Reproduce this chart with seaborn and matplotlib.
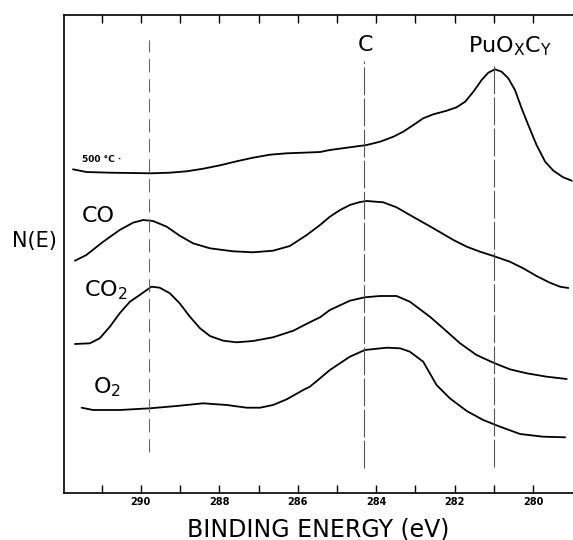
import numpy as np
import pandas as pd
import matplotlib
matplotlib.use("Agg")
import matplotlib.pyplot as plt
import seaborn as sns

sns.set_style("white")
plt.rcParams['font.family'] = ['DejaVu Sans']
plt.rcParams['text.color'] = 'black'

# spectra: binding energy (eV) and N(E) (arbitrary units)
e_500 = [291.73, 291.39, 290.79, 289.73, 289.26, 288.83, 288.41, 287.98, 287.56, 287.14,
         286.71, 286.28, 285.86, 285.43, 285.18, 284.67, 284.24, 283.90, 283.56, 283.31,
         283.05, 282.80, 282.54, 282.20, 281.95, 281.73, 281.52, 281.31, 281.14, 280.97,
         280.80, 280.63, 280.46, 280.29, 280.12, 279.91, 279.69, 279.48, 279.23, 279.01]
n_500 = [33.07, 32.80, 32.73, 32.67, 32.73, 32.87, 33.13, 33.47, 33.87, 34.23,
         34.53, 34.67, 34.73, 34.80, 35.00, 35.27, 35.50, 35.83, 36.33, 36.83,
         37.50, 38.17, 38.57, 38.93, 39.27, 39.83, 40.83, 42.00, 42.73, 43.07,
         42.83, 42.17, 41.00, 39.17, 37.50, 35.50, 33.83, 32.93, 32.27, 31.93]

e_co = [291.68, 291.39, 290.96, 290.54, 290.20, 289.94, 289.69, 289.34, 289.01, 288.67,
        288.24, 287.65, 287.14, 286.63, 286.20, 285.77, 285.43, 285.18, 284.92, 284.67,
        284.41, 284.24, 283.82, 283.48, 283.14, 282.54, 282.03, 281.69, 281.35, 281.01,
        280.59, 280.25, 279.91, 279.57, 279.31, 279.10]
n_co = [23.93, 24.50, 25.83, 27.00, 27.73, 28.00, 27.90, 27.33, 26.43, 25.67,
        25.17, 24.87, 24.77, 24.93, 25.40, 26.50, 27.50, 28.33, 29.00, 29.50,
        29.80, 29.90, 29.77, 29.27, 28.50, 27.17, 26.00, 25.33, 24.83, 24.40,
        23.83, 23.17, 22.40, 21.73, 21.33, 21.20]

e_co2 = [291.68, 291.30, 291.05, 290.79, 290.54, 290.28, 290.03, 289.73, 289.52, 289.26,
         289.01, 288.75, 288.49, 288.24, 287.90, 287.56, 287.14, 286.63, 286.11, 285.69,
         285.43, 285.18, 284.67, 284.29, 283.90, 283.48, 283.14, 282.63, 282.29, 281.86,
         281.44, 281.01, 280.59, 280.16, 279.65, 279.14]
n_co2 = [15.60, 15.67, 16.17, 17.33, 18.67, 19.83, 20.50, 21.33, 21.23, 20.67,
         19.67, 18.33, 17.17, 16.40, 15.93, 15.77, 15.90, 16.27, 16.93, 17.78,
         18.27, 19.00, 19.93, 20.27, 20.40, 20.40, 19.83, 18.33, 17.17, 15.67,
         14.50, 13.73, 13.07, 12.67, 12.33, 12.10]

e_o2 = [291.51, 291.22, 290.54, 289.77, 289.09, 288.41, 287.81, 287.30, 286.96, 286.63,
        286.28, 285.86, 285.69, 285.43, 285.18, 284.67, 284.29, 283.73, 283.39, 283.14,
        282.80, 282.46, 282.12, 281.69, 281.27, 280.84, 280.33, 279.74, 279.18]
n_o2 = [9.23, 9.00, 9.00, 9.17, 9.40, 9.67, 9.50, 9.23, 9.23, 9.50,
        10.07, 11.00, 11.33, 12.17, 13.00, 14.33, 15.00, 15.23, 15.17, 14.83,
        13.83, 11.50, 10.17, 8.90, 8.00, 7.33, 6.60, 6.33, 6.27]

ref_lines = [289.8, 284.3, 281.0]

fig = plt.figure(figsize=(5.73, 5.40), dpi=100)
ax = fig.add_axes([64 / 573, 46.7 / 540, 509 / 573, 478.3 / 540])

for e, n in [(e_500, n_500), (e_co, n_co), (e_co2, n_co2), (e_o2, n_o2)]:
    df = pd.DataFrame({"E": e, "N": n})
    sns.lineplot(data=df, x="E", y="N", sort=False, color="black", lw=1.3, ax=ax,
                 solid_joinstyle="round", solid_capstyle="round")

# reference positions
ax.vlines(ref_lines[0], 4.8, 46.0, color="#666666", lw=0.8, linestyles=(0, (12, 6)))
ax.vlines(ref_lines[1], 3.2, 43.9, color="#555555", lw=0.8, linestyles=(0, (25, 3)))
ax.vlines(ref_lines[2], 3.3, 43.6, color="#555555", lw=0.8, linestyles=(0, (25, 3)))

ax.set_xlim(291.96, 278.98)
ax.set_ylim(0.67, 48.5)

ax.set_xticks(np.arange(280, 292, 2))
ax.set_xticks(np.arange(281, 292, 2), minor=True)
ax.tick_params(axis="x", which="both", direction="in", length=6, width=1, labelsize=7,
               top=True, bottom=True, pad=3, colors="black")
ax.set_yticks([])
for s in ["left", "bottom", "top"]:
    ax.spines[s].set_linewidth(1.2)
    ax.spines[s].set_color("black")
ax.spines["right"].set_visible(False)
for lab in ax.get_xticklabels():
    lab.set_fontweight("bold")

ax.set_xlabel("BINDING ENERGY (eV)", fontsize=17, labelpad=7, color="black")
ax.set_ylabel("")
fig.text(12 / 573, 1 - 241 / 540, "N(E)", fontsize=15, va="center", ha="left")

ax.text(291.5, 34.0, "500 °C ·", fontsize=6.5, fontweight="bold", va="center", ha="left")
ax.text(291.51, 28.4, "CO", fontsize=16, va="center", ha="left")
ax.text(291.45, 21.0, "CO$_2$", fontsize=16, va="center", ha="left")
ax.text(291.22, 11.3, "O$_2$", fontsize=16, va="center", ha="left")
ax.text(284.26, 45.5, "C", fontsize=16, va="center", ha="center")
ax.text(280.59, 45.4, r"PuO$_\mathrm{X}$C$_\mathrm{Y}$", fontsize=16, va="center", ha="center")

plt.savefig("out.png", dpi=100)
